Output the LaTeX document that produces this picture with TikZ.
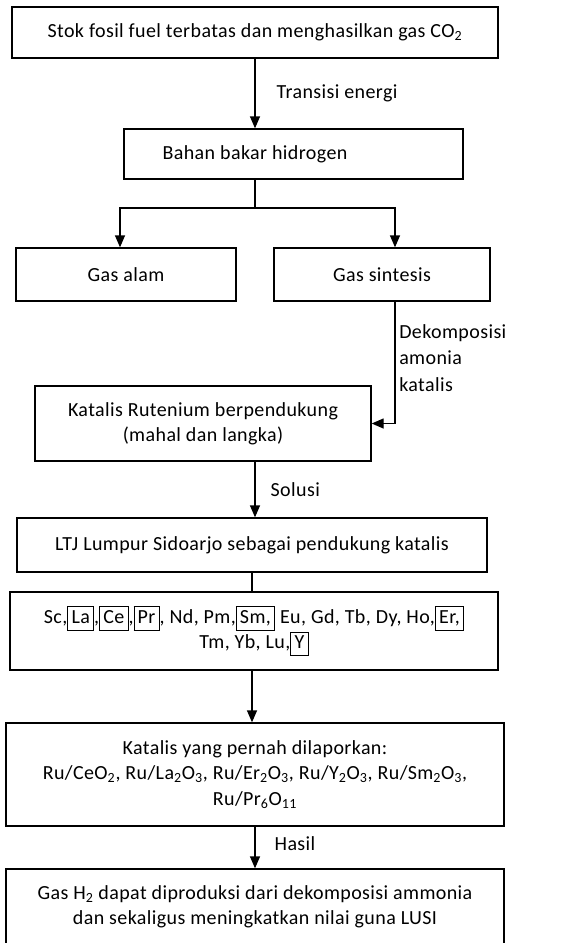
\documentclass[tikz,border=0pt]{standalone}
\usepackage{fontspec}
\setmainfont{Carlito}[LetterSpace=2]
\usepackage{tikz}
\usetikzlibrary{arrows.meta,positioning,calc}
\newcommand{\px}{0.75pt}
\newcommand{\unsur}[1]{{\setlength{\fboxsep}{2.4pt}\setlength{\fboxrule}{0.75pt}\fbox{\vphantom{Ly}#1}}}
\tikzset{
  flowbox/.style={
    draw=black,
    line width=1pt,
    align=center,
    inner sep=0pt,
    font=\fontsize{15}{19}\selectfont
  },
  lbl/.style={
    align=left,
    inner sep=0pt,
    font=\fontsize{15}{19}\selectfont
  },
  arr/.style={-{Triangle[length=9pt,width=7.5pt]},line width=1pt},
  link/.style={line width=1pt}
}

\begin{document}
\begin{tikzpicture}[x=\px, y=-\px]
  \useasboundingbox (0,0) rectangle (577,943);
  % boxes
  \node[flowbox, minimum width=486*\px, minimum height=51*\px] (stok) at (255,32.5)
    {Stok fosil fuel terbatas dan menghasilkan gas CO\textsubscript{2}};
  \node[flowbox, minimum width=339*\px, minimum height=50*\px] (hidro) at (293.5,154) {};
  \node[lbl] (hidrotext) at (255,154) {Bahan bakar hidrogen};
  \node[flowbox, minimum width=220*\px, minimum height=53*\px] (gasalam) at (126,274.5) {Gas alam};
  \node[flowbox, minimum width=216*\px, minimum height=53*\px] (sintesis) at (382,274.5) {Gas sintesis};
  \node[flowbox, minimum width=336*\px, minimum height=75*\px] (rutenium) at (203,423.5)
    {Katalis Rutenium berpendukung\\(mahal dan langka)};
  \node[flowbox, minimum width=470*\px, minimum height=54*\px] (ltj) at (252,545)
    {LTJ Lumpur Sidoarjo sebagai pendukung katalis};
  \node[flowbox, minimum width=488*\px, minimum height=78*\px] (unsur) at (254,631)
    {Sc,\unsur{La},\unsur{Ce},\unsur{Pr}, Nd, Pm,\unsur{Sm,} Eu, Gd, Tb, Dy, Ho,\unsur{Er,}\\
     Tm, Yb, Lu,\unsur{Y}};
  \node[flowbox, minimum width=498*\px, minimum height=103*\px] (laporan) at (255,774.5)
    {Katalis yang pernah dilaporkan:\\
     Ru/CeO\textsubscript{2}, Ru/La\textsubscript{2}O\textsubscript{3}, Ru/Er\textsubscript{2}O\textsubscript{3}, Ru/Y\textsubscript{2}O\textsubscript{3}, Ru/Sm\textsubscript{2}O\textsubscript{3},\\
     Ru/Pr\textsubscript{6}O\textsubscript{11}};
  \node[flowbox, minimum width=498*\px, minimum height=76*\px] (hasil) at (255,907)
    {Gas H\textsubscript{2} dapat diproduksi dari dekomposisi ammonia\\
     dan sekaligus meningkatkan nilai guna LUSI};

  % connectors
  \coordinate (cab) at (255,208);
  \coordinate (kiri) at (120,208);
  \coordinate (kanan) at (395,208);
  \draw[arr] (stok.south) -- node[lbl, right, xshift=21*\px] {Transisi energi} (stok.south |- hidro.north);
  \draw[link] (stok.south |- hidro.south) -- (cab);
  \draw[arr] (cab) -| (gasalam.north -| kiri);
  \draw[arr] (cab) -| (sintesis.north -| kanan);
  \draw[arr] (sintesis.south -| kanan) |- (rutenium.east);
  \node[lbl, anchor=west, font=\fontsize{15}{20}\selectfont] (dekomp) at (399,358) {Dekomposisi\\amonia\\katalis};
  \draw[arr] (rutenium.south -| stok.south) -- node[lbl, right, xshift=15*\px] {Solusi} (ltj.north -| stok.south);
  \draw[link] (ltj.south) -- (ltj.south |- unsur.north);
  \draw[arr] (unsur.south -| ltj.south) -- (laporan.north -| ltj.south);
  \draw[arr] (laporan.south) -- node[lbl, right, xshift=19*\px, yshift=4*\px] {Hasil} (hasil.north);
\end{tikzpicture}
\end{document}
